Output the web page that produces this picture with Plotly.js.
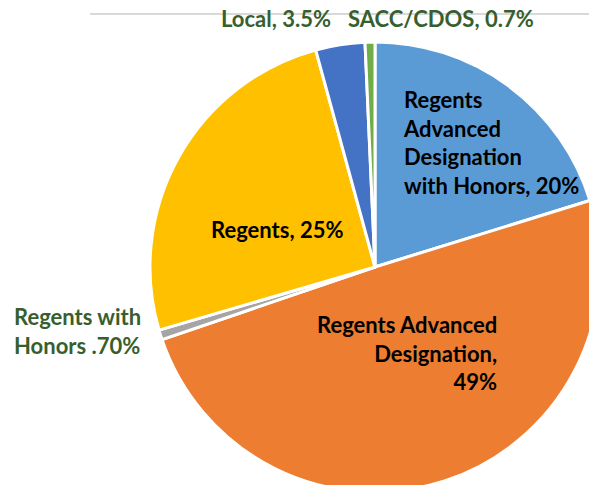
<!DOCTYPE html>
<html>
<head>
<meta charset="utf-8">
<script src="https://cdn.plot.ly/plotly-3.0.1.min.js"></script>
<style>
  html, body { margin: 0; padding: 0; width: 589px; height: 485px; overflow: hidden; background: #fff; }
  #chart { position: absolute; left: 0; top: 0; width: 750px; height: 534px; }
</style>
</head>
<body>
<div id="chart"></div>
<script>
// Data (clockwise from 12 o'clock)
const categories = [
  "Regents Advanced Designation with Honors",
  "Regents Advanced Designation",
  "Regents with Honors",
  "Regents",
  "Local",
  "SACC/CDOS"
];
const values = [20, 49, 0.7, 25, 3.5, 0.7];
const labelTexts = [
  "Regents<br>Advanced<br>Designation<br>with Honors, 20%",
  "Regents Advanced<br>Designation,<br>49%",
  "Regents with<br>Honors .70%",
  "Regents, 25%",
  "Local, 3.5%",
  "SACC/CDOS, 0.7%"
];
const colors = ["#5B9BD5", "#ED7D31", "#A5A5A5", "#FFC000", "#4472C4", "#70AD47"];
const labelColors = ["#000000", "#000000", "#375F2E", "#000000", "#375F2E", "#375F2E"];

const W = 750, H = 534;
const px = x => x / W;
const py = y => 1 - y / H;

// label placement (pixels in page)
const labelPos = [
  {x: 401, y: 142, xa: "left", al: "left"},
  {x: 499, y: 353, xa: "right", al: "right"},
  {x: 12, y: 331, xa: "left", al: "left"},
  {x: 277, y: 230, xa: "center", al: "center"},
  {x: 276, y: 19, xa: "center", al: "center"},
  {x: 441, y: 19, xa: "center", al: "center"}
];

const FONT = "Lato, 'Open Sans', sans-serif";

const annotations = labelTexts.map((t, i) => ({
  text: "<b>" + t + "</b>",
  xref: "paper", yref: "paper",
  x: px(labelPos[i].x), y: py(labelPos[i].y),
  xanchor: labelPos[i].xa, yanchor: "middle",
  align: labelPos[i].al,
  showarrow: false,
  font: {family: FONT, size: 22, color: labelColors[i]}
}));

const trace = {
  type: "pie",
  labels: categories,
  values: values,
  sort: false,
  direction: "clockwise",
  rotation: 0,
  textinfo: "none",
  hoverinfo: "label+percent",
  marker: {colors: colors, line: {color: "#FFFFFF", width: 3}},
  domain: {x: [0.2, 0.8], y: [0, 1]},
  showlegend: false
};

const layout = {
  width: W, height: H,
  margin: {l: 0, r: 0, t: 0, b: 0},
  paper_bgcolor: "#FFFFFF",
  showlegend: false,
  annotations: annotations,
  shapes: [{
    type: "line", xref: "paper", yref: "paper",
    x0: px(90), x1: 1, y0: py(14), y1: py(14),
    line: {color: "#D9D9D9", width: 2}
  }]
};

Plotly.newPlot("chart", [trace], layout, {displayModeBar: false, staticPlot: true});
</script>
</body>
</html>
